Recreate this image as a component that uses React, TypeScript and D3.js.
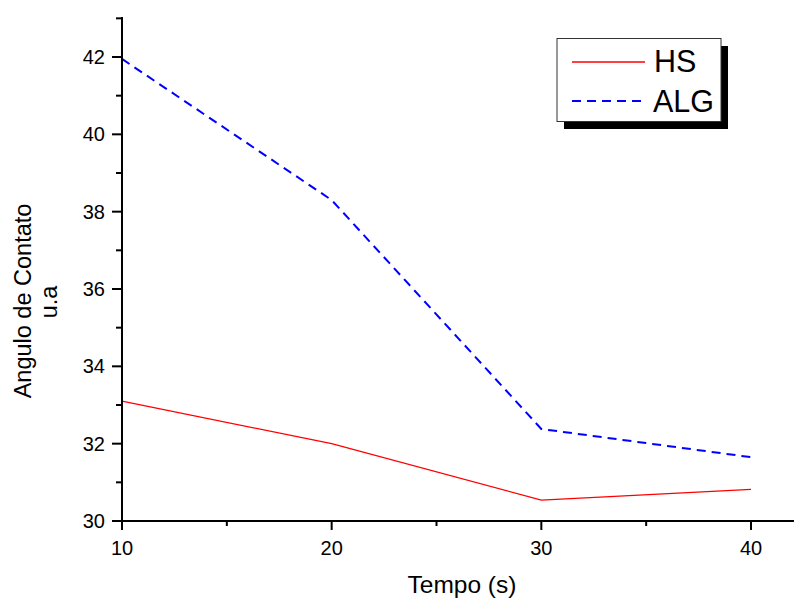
import React from "react";
import * as d3 from "d3";

const xValues = [10, 20, 30, 40];
const hsValues = [33.1, 32.0, 30.54, 30.82];
const algValues = [41.95, 38.3, 32.38, 31.65];
const xMajorTicks = [10, 20, 30, 40];
const xMinorTicks = [15, 25, 35];
const yMajorTicks = [30, 32, 34, 36, 38, 40, 42];
const yMinorTicks = [31, 33, 35, 37, 39, 41, 43];
const seriesNames = ["HS", "ALG"];

export default function App() {
  const W = 794, H = 599;
  const x = d3.scaleLinear().domain([10, 40]).range([122, 751]);
  const y = d3.scaleLinear().domain([30, 42]).range([521, 57]);
  const xEnd = 794;
  const yTop = 17;
  const line = d3.line<number>().x((_, i) => x(xValues[i])).y((d) => y(d));
  const font = "Arial, 'Liberation Sans', sans-serif";
  return (
    <svg width={W} height={H} style={{ position: "absolute", left: 0, top: 0, background: "#fff" }} fontFamily={font}>
      <path d={line(hsValues) || ""} fill="none" stroke="#ff0000" strokeWidth={1.3} />
      <path d={line(algValues) || ""} fill="none" stroke="#0000ff" strokeWidth={2} strokeDasharray="9,6" />
      {/* axes */}
      <line x1={x(10)} x2={xEnd} y1={521} y2={521} stroke="#000" strokeWidth={2} />
      <line x1={x(10)} x2={x(10)} y1={yTop} y2={522} stroke="#000" strokeWidth={2} />
      {xMajorTicks.map((t) => (
        <g key={"xm" + t}>
          <line x1={x(t)} x2={x(t)} y1={521} y2={530} stroke="#000" strokeWidth={2} />
          <text x={x(t)} y={555} textAnchor="middle" fontSize={20}>{t}</text>
        </g>
      ))}
      {xMinorTicks.map((t) => (
        <line key={"xn" + t} x1={x(t)} x2={x(t)} y1={521} y2={526} stroke="#000" strokeWidth={2} />
      ))}
      {yMajorTicks.map((t) => (
        <g key={"ym" + t}>
          <line x1={112} x2={x(10)} y1={y(t)} y2={y(t)} stroke="#000" strokeWidth={2} />
          <text x={105} y={y(t) + 7} textAnchor="end" fontSize={20}>{t}</text>
        </g>
      ))}
      {yMinorTicks.map((t) => (
        <line key={"yn" + t} x1={116} x2={x(10)} y1={y(t) < yTop ? yTop : y(t)} y2={y(t) < yTop ? yTop : y(t)} stroke="#000" strokeWidth={2} />
      ))}
      <text x={462} y={593} textAnchor="middle" fontSize={24.5}>Tempo (s)</text>
      <text transform="translate(31,301) rotate(-90)" textAnchor="middle" fontSize={23.5}>Angulo de Contato</text>
      <text transform="translate(56.5,302) rotate(-90)" textAnchor="middle" fontSize={23.5}>u.a</text>
      {/* legend */}
      <rect x={564} y={46} width={164} height={83} fill="#000" />
      <rect x={557} y={38.5} width={164} height={83} fill="#fff" stroke="#333" strokeWidth={1} />
      <line x1={572} x2={645} y1={62} y2={62} stroke="#ff0000" strokeWidth={1.3} />
      <line x1={572} x2={645} y1={101} y2={101} stroke="#0000ff" strokeWidth={2} strokeDasharray="9,6" />
      <text x={654} y={72} fontSize={30.5}>{seriesNames[0]}</text>
      <text x={653} y={111.5} fontSize={30.5}>{seriesNames[1]}</text>
    </svg>
  );
}
